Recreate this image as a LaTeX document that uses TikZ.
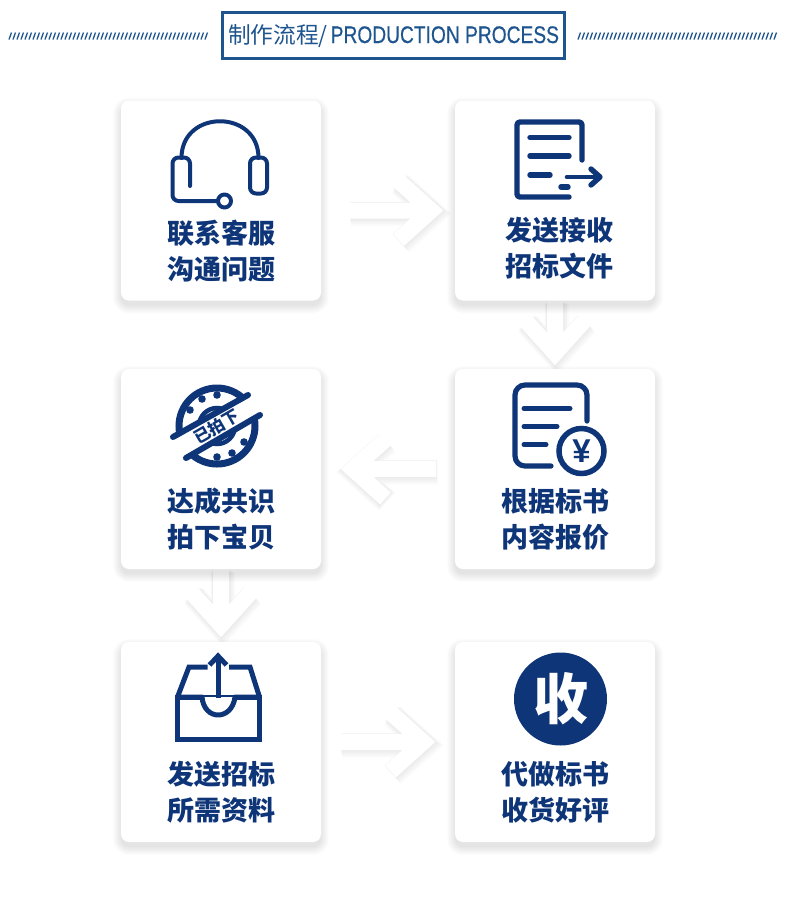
\documentclass[tikz,border=0pt]{standalone}
\usepackage{fontspec}
\setmainfont{Liberation Sans}
\newfontfamily\cjk{Noto Sans CJK SC}
\newfontfamily\titlefont[FakeBold=0.5]{Liberation Sans}
\usetikzlibrary{calc,backgrounds}
\definecolor{navy}{HTML}{0F3579}
\definecolor{titleblue}{HTML}{1F558F}
\tikzset{
  cardbox/.style={fill=white,rounded corners=8pt,minimum width=200pt,minimum height=200pt,inner sep=0pt},
  cardlabel/.style={text=navy,font=\cjk\bfseries\fontsize{27}{36}\selectfont,align=center,inner sep=0pt},
  ico/.style={draw=navy,line width=4pt,line cap=round,line join=round},
  bigarrow/.style={line width=16pt,line cap=butt,line join=miter,miter limit=10},
}
\newcommand{\card}[3]{%
  \foreach \i in {0,...,8}{
    \fill[black,opacity=.011,rounded corners=8pt+\i pt]
      (#2-100-\i,#3-100-\i+5) rectangle (#2+100+\i,#3+100+\i+5);
  }
  \node[cardbox] (#1) at (#2,#3) {};
}
\newcommand{\softarrow}[2]{%
  \coordinate (tipc) at ($(#2)!11.5pt!(#1)$);
  \coordinate (armA) at ($(tipc)!44pt!42:(#1)$);
  \coordinate (armB) at ($(tipc)!44pt!-42:(#1)$);
  \foreach \d in {1,...,10}{
    \draw[bigarrow,black,opacity=.007,line width=16pt+\d*.9pt,transform canvas={xshift=\d*.2pt,yshift=-\d*.35pt}]
      (#1) -- (tipc) (armA) -- (tipc) -- (armB);
  }
  \draw[bigarrow,white] (#1) -- (tipc) (armA) -- (tipc) -- (armB);
}
\begin{document}
\begin{tikzpicture}[x=1pt,y=-1pt]
\useasboundingbox (0,0) rectangle (790,914);
\begin{pgfonlayer}{background}
\fill[white] (0,0) rectangle (790,914);
\end{pgfonlayer}

% heading
\node[draw=titleblue,line width=3pt,fill=white,minimum width=342pt,minimum height=46pt,inner sep=0pt,
  text=titleblue,font=\fontsize{22.7}{23}\selectfont] (title) at (393.5,35.5)
  {{\cjk 制作流程/}\hspace{3pt}\scalebox{.80}[1]{\fontsize{24}{24}\titlefont PRODUCTION PROCESS}};
\foreach \x in {9,13,...,205}{
  \draw[titleblue,line width=1.3pt] (\x,39.5) -- (\x+2.5,32.5);
}
\foreach \x in {570,574,...,766}{
  \draw[titleblue,line width=1.3pt] (\x+8,39.5) -- (\x+10.5,32.5);
}

% cards
\card{a}{221}{200.5}
\card{b}{555}{200.5}
\card{c}{555}{469}
\card{d}{221}{469}
\card{e}{221}{742}
\card{f}{555}{742}

% labels
\node[cardlabel] (la) at (221,251) {联系客服\\沟通问题};
\node[cardlabel] (lb) at (559,248) {发送接收\\招标文件};
\node[cardlabel] (lc) at (555,519) {根据标书\\内容报价};
\node[cardlabel] (ld) at (221,519) {达成共识\\拍下宝贝};
\node[cardlabel] (le) at (221,792) {发送招标\\所需资料};
\node[cardlabel] (lf) at (555,792) {代做标书\\收货好评};

% connectors
\coordinate (a1) at ($(a.east)+(28,10)$);
\coordinate (a2) at ($(b.west)+(-12,10)$);
\coordinate (b1) at (b.south);
\coordinate (b2) at ($(c.north)+(0,-4)$);
\coordinate (c1) at ($(c.west)+(-19,0)$);
\coordinate (c2) at ($(d.east)+(20,0)$);
\coordinate (d1) at (d.south);
\coordinate (d2) at ($(e.north)+(0,-5)$);
\coordinate (e1) at ($(e.east)+(19,0)$);
\coordinate (e2) at ($(f.west)+(-20,0)$);
\begin{pgfonlayer}{background}
\softarrow{a1}{a2}
\softarrow{b1}{b2}
\softarrow{c1}{c2}
\softarrow{d1}{d2}
\softarrow{e1}{e2}
\end{pgfonlayer}

% headset icon
\draw[ico] (181.5,158) .. controls (181.5,109) and (258.5,109) .. (258.5,158);
\draw[ico,rounded corners=6pt] (190,186) -- (190,157.5) -- (172.5,157.5) -- (172.5,201) -- (218,201);
\draw[ico,rounded corners=6pt] (250,157.5) rectangle (267,193.5);
\draw[ico,fill=white] (224.5,201) circle[radius=6.5pt];

% document with arrow
\draw[ico,line width=5.4pt,rounded corners=3pt] (582,160) -- (582,122) -- (517,122) -- (517,197) -- (569,197);
\draw[ico,line width=5.4pt] (530,137.5) -- (569,137.5);
\draw[ico,line width=5.4pt] (530,156) -- (569,156);
\draw[ico,line width=5.4pt] (530,175) -- (550,175);
\draw[ico,line width=5.4pt] (561,187) -- (568,187);
\draw[ico,line width=4.6pt] (567,177) -- (599,177);
\draw[ico,line width=5.4pt] (591,169) -- (600,177) -- (591,185);

% document with yen
\draw[ico,line width=5.2pt,rounded corners=10pt] (587,421) -- (587,385) -- (515,385) -- (515,466) -- (551,466);
\draw[ico,line width=5pt] (524,408.5) -- (570,408.5);
\draw[ico,line width=5pt] (524,426.5) -- (557,426.5);
\draw[ico,line width=5pt] (524,444.5) -- (546,444.5);
\node[draw=navy,line width=5.5pt,fill=white,circle,minimum size=45pt,inner sep=0pt,text=navy,
  font=\fontsize{33}{33}\bfseries\selectfont] (yen) at (581.5,451) {¥};

% stamp
\begin{scope}
  \clip (98,479) -- (323,353) -- (281,278) -- (56,404) -- cycle;
  \draw[navy,line width=7pt] (217,426) circle[radius=38pt];
  \draw[navy,line width=4.5pt] (217,426) circle[radius=18pt];
  \fill[navy] (190,410) circle[radius=3.8pt] (202,399) circle[radius=3.8pt] (217,395) circle[radius=3.8pt];
\end{scope}
\begin{scope}
  \clip (111,500) -- (335,373) -- (377,448) -- (153,575) -- cycle;
  \draw[navy,line width=7pt] (217,426) circle[radius=38pt];
  \draw[navy,line width=4.5pt] (217,426) circle[radius=18pt];
  \fill[navy] (244,442) circle[radius=3.8pt] (232,453) circle[radius=3.8pt] (217,457) circle[radius=3.8pt];
\end{scope}
\draw[ico,line width=6pt] (173,437) -- (248,395);
\draw[ico,line width=6pt] (186,458) -- (260,415);
\node[text=navy,rotate=30,inner sep=0pt,font=\cjk\bfseries\fontsize{16.5}{16.5}\selectfont] (stamp) at (216.5,426.5) {已拍下};

% inbox
\draw[ico,line cap=butt,line join=miter,line width=5pt] (177.5,697) rectangle (259.5,739.5);
\draw[ico,line cap=butt,line join=miter,line width=5pt] (207.5,667) -- (189,667) -- (177.5,697) (229,667) -- (250,667) -- (259.5,697);
\draw[ico,line cap=butt,line join=round,line width=5pt,fill=white] (177.5,697) -- (202,697) .. controls (204,721) and (232,721) .. (235,697) -- (259.5,697);
\draw[ico,line cap=butt,line width=5pt] (218,698) -- (218,657);
\draw[ico,line cap=butt,line join=miter,line width=5pt] (209.5,665) -- (218,656) -- (226.5,665);

% badge
\node[fill=navy,circle,minimum size=93pt,inner sep=0pt,text=white,
  font=\cjk\bfseries\fontsize{55}{55}\selectfont] (badge) at (560.5,699) {收};
\end{tikzpicture}
\end{document}
